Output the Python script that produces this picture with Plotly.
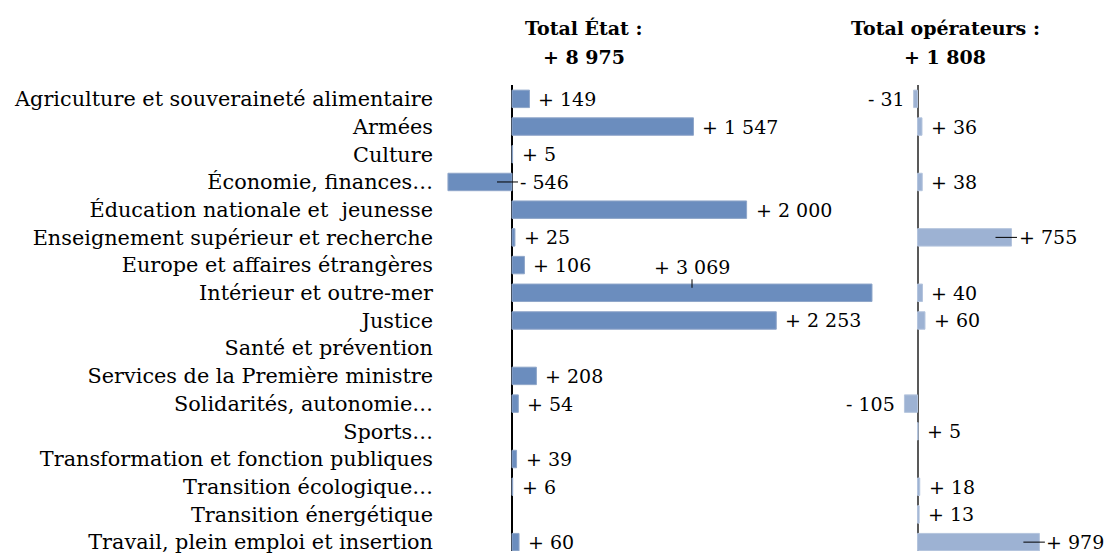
import plotly.graph_objects as go

# Ministères
categories = [
    "Agriculture et souveraineté alimentaire",
    "Armées",
    "Culture",
    "Économie, finances…",
    "Éducation nationale et  jeunesse",
    "Enseignement supérieur et recherche",
    "Europe et affaires étrangères",
    "Intérieur et outre-mer",
    "Justice",
    "Santé et prévention",
    "Services de la Première ministre",
    "Solidarités, autonomie…",
    "Sports…",
    "Transformation et fonction publiques",
    "Transition écologique…",
    "Transition énergétique",
    "Travail, plein emploi et insertion",
]

# Variation des emplois (ETPT) : État
etat = [149, 1547, 5, -546, 2000, 25, 106, 3069, 2253, None,
        208, 54, None, 39, 6, None, 60]

# Variation des emplois (ETPT) : opérateurs
operateurs = [-31, 36, None, 38, None, 755, None, 40, 60, None,
              None, -105, 5, None, 18, 13, 979]

FONT = "DejaVu Serif, Liberation Serif, serif"
FS_CAT = 20.8
FS = 19
C_ETAT = "#6b8dbe"
C_ETAT_EDGE = "#8fa6c9"
C_OP = "#9db2d3"
C_OP_EDGE = "#b4c4dd"

W, H = 1108, 554


def fmt(v):
    sign = "+ " if v >= 0 else "- "
    return sign + f"{abs(v):,}".replace(",", " ")


fig = go.Figure()
fig.add_trace(go.Bar(
    y=categories, x=etat, orientation="h", xaxis="x", yaxis="y",
    marker=dict(color=C_ETAT, line=dict(color=C_ETAT_EDGE, width=1)),
    hoverinfo="skip", showlegend=False,
))
fig.add_trace(go.Bar(
    y=categories, x=operateurs, orientation="h", xaxis="x2", yaxis="y2",
    marker=dict(color=C_OP, line=dict(color=C_OP_EDGE, width=1)),
    hoverinfo="skip", showlegend=False,
))

annotations = []
label_font = dict(family=FONT, size=FS, color="black")

# Data labels, panel État
for cat, v in zip(categories, etat):
    if v is None:
        continue
    if v < 0:
        # label pulled to the right of the axis, with a leader line
        annotations.append(dict(
            x=0, y=cat, xref="x", yref="y", text=fmt(v), font=label_font,
            showarrow=True, arrowhead=0, arrowwidth=1, arrowcolor="black",
            ax=47, ay=0, xshift=-15, standoff=0,
        ))
    elif v > 3000:
        # label above the bar, with a short leader
        annotations.append(dict(
            x=v / 2, y=cat, xref="x", yref="y", text=fmt(v), font=label_font,
            showarrow=True, arrowhead=0, arrowwidth=1, arrowcolor="black",
            ax=0, ay=-21, yshift=5, standoff=0,
        ))
    else:
        annotations.append(dict(
            x=v, y=cat, xref="x", yref="y", text=fmt(v), font=label_font,
            showarrow=False, xanchor="left", xshift=7,
        ))

# Data labels, panel opérateurs
for cat, v in zip(categories, operateurs):
    if v is None:
        continue
    if v < 0:
        annotations.append(dict(
            x=v, y=cat, xref="x2", yref="y2", text=fmt(v), font=label_font,
            showarrow=False, xanchor="right", xshift=-7,
        ))
    elif v > 500:
        annotations.append(dict(
            x=v, y=cat, xref="x2", yref="y2", text=fmt(v), font=label_font,
            showarrow=True, arrowhead=0, arrowwidth=1, arrowcolor="black",
            ax=52, ay=0, xshift=-16, standoff=0,
        ))
    else:
        annotations.append(dict(
            x=v, y=cat, xref="x2", yref="y2", text=fmt(v), font=label_font,
            showarrow=False, xanchor="left", xshift=7,
        ))

# Panel headers with totals
T_TOP = 85
plot_h = H - T_TOP


def py(px):
    return (H - px) / plot_h


title_font = dict(family=FONT, size=FS, color="black")
for cx, name, vals in [(584, "Total État :", etat), (945, "Total opérateurs :", operateurs)]:
    total = sum(v for v in vals if v is not None)
    annotations.append(dict(
        x=cx / W, y=py(28), xref="paper", yref="paper", text=f"<b>{name}</b>",
        font=title_font, showarrow=False, xanchor="center", yanchor="middle",
    ))
    annotations.append(dict(
        x=cx / W, y=py(57), xref="paper", yref="paper", text=f"<b>{fmt(total)}</b>",
        font=title_font, showarrow=False, xanchor="center", yanchor="middle",
    ))

# Horizontal scales: zero of each panel and pixels per unit
L0, L1, LZ, LS = 440, 885, 512, 0.1173
R0, R1, RZ, RS = 895, 1108, 917.5, 0.1245

fig.update_layout(
    width=W, height=H,
    margin=dict(l=0, r=0, t=T_TOP, b=0),
    paper_bgcolor="white", plot_bgcolor="white",
    bargap=0.37,
    font=dict(family=FONT, size=FS, color="black"),
    xaxis=dict(
        domain=[L0 / W, L1 / W], range=[(L0 - LZ) / LS, (L1 - LZ) / LS],
        showgrid=False, showticklabels=False, ticks="",
        zeroline=True, zerolinecolor="black", zerolinewidth=1.5, anchor="y",
    ),
    xaxis2=dict(
        domain=[R0 / W, R1 / W], range=[(R0 - RZ) / RS, (R1 - RZ) / RS],
        showgrid=False, showticklabels=False, ticks="",
        zeroline=True, zerolinecolor="#595959", zerolinewidth=1.5, anchor="y2",
    ),
    yaxis=dict(
        type="category", categoryorder="array", categoryarray=categories,
        range=[16.32, -0.5], showgrid=False, zeroline=False, ticks="",
        ticklabelstandoff=6, tickfont=dict(family=FONT, size=FS_CAT, color="black"),
        anchor="x",
    ),
    yaxis2=dict(
        type="category", categoryorder="array", categoryarray=categories,
        range=[16.32, -0.5], showgrid=False, zeroline=False, ticks="",
        showticklabels=False, anchor="x2",
    ),
    annotations=annotations,
)

fig.write_html("out.html")
